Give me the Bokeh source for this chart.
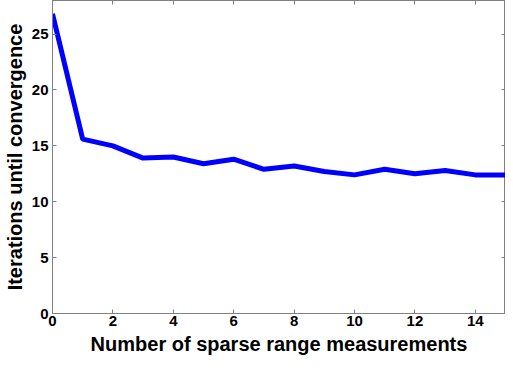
from bokeh.plotting import figure
from bokeh.models import LinearAxis, Range1d, FixedTicker
from bokeh.embed import file_html
from bokeh.resources import INLINE

x_vals = list(range(16))
iterations = [26.8, 15.6, 15.0, 13.9, 14.0, 13.4, 13.8, 12.9, 13.2, 12.7, 12.4, 12.9, 12.5, 12.8, 12.4, 12.4]
x_ticks = [0, 2, 4, 6, 8, 10, 12, 14]
y_ticks = [0, 5, 10, 15, 20, 25]

p = figure(width=505, height=357, output_backend="svg", toolbar_location=None,
           x_range=Range1d(0, 15), y_range=Range1d(0, 28),
           min_border_left=0, min_border_right=0, min_border_top=0, min_border_bottom=0)
p.grid.visible = False
p.outline_line_color = "#808080"

p.line(x_vals, iterations, line_color="#0000FF", line_width=5)

FONT = "Liberation Sans"
for ax in (p.xaxis[0], p.yaxis[0]):
    ax.major_tick_in = 4
    ax.major_tick_out = 0
    ax.minor_tick_line_color = None
    ax.axis_line_color = "#808080"
    ax.major_tick_line_color = "#808080"
    ax.major_label_text_font = FONT
    ax.major_label_text_font_style = "bold"
    ax.major_label_text_font_size = "15px"
    ax.major_label_text_color = "black"
    ax.axis_label_text_font = FONT
    ax.axis_label_text_font_style = "bold"
    ax.axis_label_text_font_size = "20px"
    ax.axis_label_text_color = "black"

p.xaxis[0].ticker = FixedTicker(ticks=x_ticks)
p.yaxis[0].ticker = FixedTicker(ticks=y_ticks)
p.xaxis[0].axis_label = "Number of sparse range measurements"
p.yaxis[0].axis_label = "Iterations until convergence"
p.xaxis[0].major_label_standoff = 2
p.yaxis[0].major_label_standoff = 4
p.xaxis[0].axis_label_standoff = 4
p.yaxis[0].axis_label_standoff = 3

top = LinearAxis(ticker=FixedTicker(ticks=x_ticks),
                 major_label_overrides={t: "" for t in x_ticks},
                 major_tick_in=4, major_tick_out=0, minor_tick_line_color=None,
                 axis_line_color="#808080", major_tick_line_color="#808080",
                 major_label_standoff=0)
right = LinearAxis(ticker=FixedTicker(ticks=y_ticks),
                   major_label_overrides={t: "" for t in y_ticks},
                   major_tick_in=4, major_tick_out=0, minor_tick_line_color=None,
                   axis_line_color="#808080", major_tick_line_color="#808080",
                   major_label_standoff=0)
p.add_layout(top, "above")
p.add_layout(right, "right")

open("out.html", "w").write(file_html(p, INLINE))
